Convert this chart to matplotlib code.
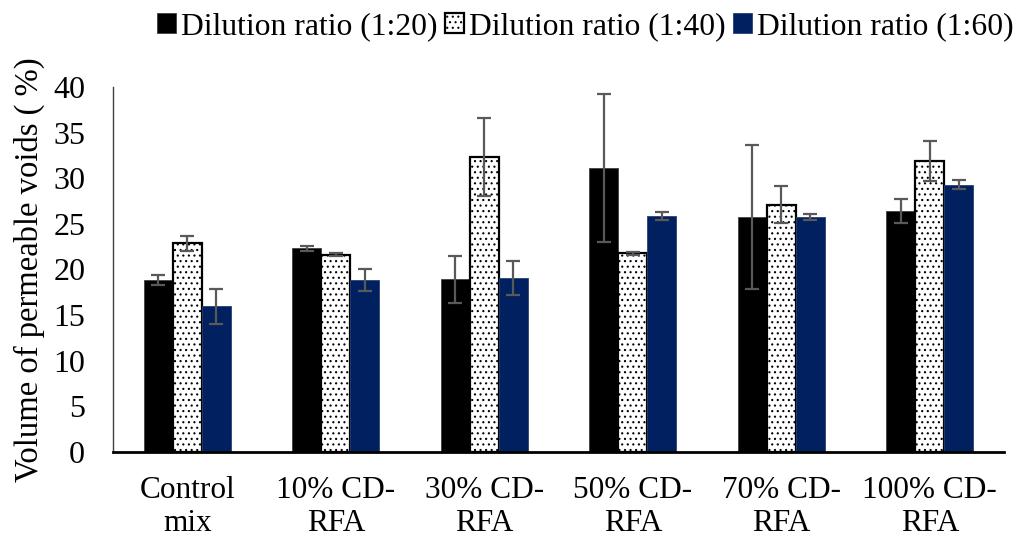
import numpy as np
import matplotlib
matplotlib.use("Agg")
import matplotlib.pyplot as plt

categories = ["Control\nmix", "10% CD-\nRFA", "30% CD-\nRFA", "50% CD-\nRFA", "70% CD-\nRFA", "100% CD-\nRFA"]
series_names = ["Dilution ratio (1:20)", "Dilution ratio (1:40)", "Dilution ratio (1:60)"]
vals_20 = [18.85, 22.3, 18.9, 31.15, 25.75, 26.4]
vals_40 = [22.85, 21.6, 32.35, 21.75, 27.1, 31.9]
vals_60 = [15.95, 18.8, 19.05, 25.85, 25.75, 29.3]
err_20 = [0.5, 0.3, 2.6, 8.1, 7.9, 1.3]
err_40 = [0.8, 0.15, 4.3, 0.15, 2.0, 2.2]
err_60 = [1.9, 1.2, 1.9, 0.45, 0.35, 0.45]

plt.rcParams['font.family'] = ['Liberation Serif', 'DejaVu Serif']
plt.rcParams['hatch.linewidth'] = 0.8

fig = plt.figure(figsize=(10.3, 5.4), dpi=100)
ax = fig.add_axes([0.1097, 0.163, 0.8651, 0.676])

x = np.arange(len(categories))
w = 0.195
err_kw = dict(ecolor='#595959', elinewidth=1.6, capsize=5, capthick=1.6)
ax.bar(x - w, vals_20, w, color='black', edgecolor='#404040', linewidth=0.6,
       yerr=err_20, error_kw=err_kw, label=series_names[0])
ax.bar(x, vals_40, w, color='white', edgecolor='black', linewidth=1.6, hatch='...',
       yerr=err_40, error_kw=err_kw, label=series_names[1])
ax.bar(x + w, vals_60, w, color='#002060', edgecolor='#2a4070', linewidth=0.6,
       yerr=err_60, error_kw=err_kw, label=series_names[2])

ax.set_xlim(-0.5, len(categories) - 0.5)
ax.set_ylim(0, 40)
ax.set_yticks(np.arange(0, 41, 5))
ax.set_xticks(x)
ax.set_xticklabels(categories, fontsize=22.5, linespacing=1.22)
ax.tick_params(axis='y', labelsize=23, length=0, pad=20)
ax.tick_params(axis='x', length=0, pad=17)
for s in ['top', 'right']:
    ax.spines[s].set_visible(False)
ax.spines['left'].set_color('#404040')
ax.spines['left'].set_linewidth(1.0)
ax.spines['bottom'].set_color('black')
ax.spines['bottom'].set_linewidth(2.0)
ax.set_ylabel("Volume of permeable voids ( %)", fontsize=23.5, labelpad=6)

fig.legend(loc='center left', bbox_to_anchor=(0.14, 0.95), ncol=3, frameon=False,
           fontsize=22.8, handlelength=0.6, handleheight=0.6, handletextpad=0.15,
           columnspacing=0.25, borderaxespad=0)

fig.savefig("out.png", dpi=100)
